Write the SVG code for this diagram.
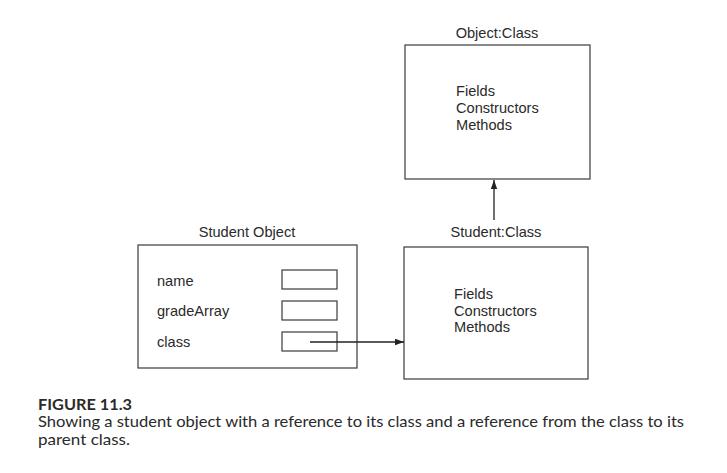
<svg xmlns="http://www.w3.org/2000/svg" width="727" height="473" viewBox="0 0 727 473">
<style>
.box{fill:none;stroke:#3a3a3a;stroke-width:1.2}
.t{font-family:"Liberation Sans",Arial,sans-serif;font-size:14.6px;fill:#2a2a2a}
.c{text-anchor:middle}
.cap{font-family:"Lato","Open Sans","Liberation Sans",sans-serif;font-size:15px;fill:#2a2a2a}
.edge{stroke:#222;stroke-width:1.3;fill:none}
</style>
<defs>
<marker id="ah" markerWidth="10" markerHeight="8" refX="9" refY="4" orient="auto" markerUnits="userSpaceOnUse">
<path d="M0,0.8 L9,4 L0,7.2 Z" fill="#222"/>
</marker>
</defs>
<rect width="727" height="473" fill="#fff"/>
<g id="student-object">
<text class="t c" x="247" y="237">Student Object</text>
<rect class="box" x="138" y="245" width="219" height="123"/>
<text class="t" x="157" y="286">name</text>
<text class="t" x="157" y="316">gradeArray</text>
<text class="t" x="157" y="347">class</text>
<rect class="box" x="282" y="270" width="55" height="19"/>
<rect class="box" x="282" y="301" width="55" height="19"/>
<rect class="box" x="282" y="332" width="55" height="19"/>
</g>
<g id="object-class">
<text class="t c" x="497" y="38">Object:Class</text>
<rect class="box" x="405" y="45" width="185" height="134"/>
<text class="t" x="456" y="96">Fields</text>
<text class="t" x="456" y="113">Constructors</text>
<text class="t" x="456" y="130">Methods</text>
</g>
<g id="student-class">
<text class="t c" x="496" y="237">Student:Class</text>
<rect class="box" x="404" y="247" width="184" height="132"/>
<text class="t" x="454" y="299">Fields</text>
<text class="t" x="454" y="316">Constructors</text>
<text class="t" x="454" y="332">Methods</text>
</g>
<g id="connectors">
<line class="edge" x1="310" y1="342" x2="404" y2="342" marker-end="url(#ah)"/>
<line class="edge" x1="494" y1="220" x2="494" y2="180" marker-end="url(#ah)"/>
</g>
<g id="caption">
<text class="cap" x="38" y="410" font-weight="bold" textLength="94" lengthAdjust="spacingAndGlyphs">FIGURE 11.3</text>
<text class="cap" x="38" y="427" textLength="646" lengthAdjust="spacingAndGlyphs">Showing a student object with a reference to its class and a reference from the class to its</text>
<text class="cap" x="38" y="445" textLength="92" lengthAdjust="spacingAndGlyphs">parent class.</text>
</g>
</svg>
